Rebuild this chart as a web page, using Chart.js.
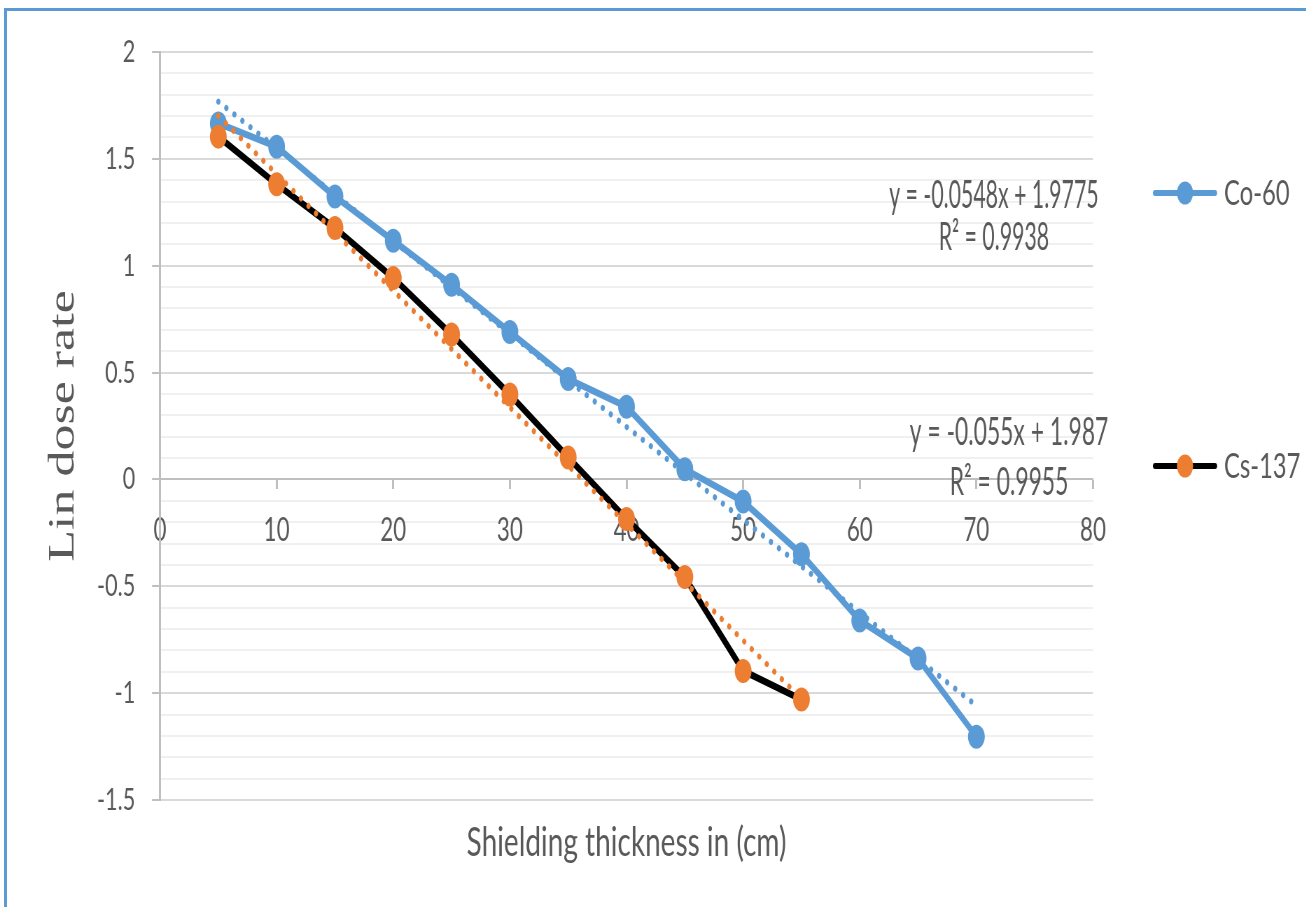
<!DOCTYPE html>
<html>
<head>
<meta charset="utf-8">
<title>Lin dose rate vs shielding thickness</title>
<script src="https://cdn.jsdelivr.net/npm/chart.js@4.4.1/dist/chart.umd.min.js"></script>
<style>
  html, body { margin: 0; padding: 0; background: #fff; overflow: hidden; width: 1306px; height: 907px; }
  #frame { position: absolute; left: 4px; top: 8px; width: 1400px; height: 1000px;
           border-top: 3px solid #5B9BD5; border-left: 3px solid #5B9BD5; }
  #wrap { position: absolute; left: 0; top: 0; transform: scaleX(0.7); transform-origin: 0 0; }
  canvas { display: block; }
</style>
</head>
<body>
<div id="frame"></div>
<div id="wrap"><canvas id="chart" width="1866" height="907"></canvas></div>
<script>
// Measured dose rates (natural log) behind increasing shield thickness
const thicknessCo = [5, 10, 15, 20, 25, 30, 35, 40, 45, 50, 55, 60, 65, 70];
const doseCo      = [1.666, 1.557, 1.324, 1.117, 0.911, 0.690, 0.470, 0.340, 0.048, -0.103, -0.350, -0.660, -0.838, -1.204];
const thicknessCs = [5, 10, 15, 20, 25, 30, 35, 40, 45, 50, 55];
const doseCs      = [1.604, 1.381, 1.176, 0.943, 0.678, 0.397, 0.103, -0.185, -0.457, -0.896, -1.030];

const seriesNames = ['Co-60', 'Cs-137'];
const fitText = [
  ['y = -0.0548x + 1.9775', 'R² = 0.9938'],
  ['y = -0.055x + 1.987', 'R² = 0.9955']
];
const xTitle = 'Shielding thickness in (cm)';
const yTitle = 'Lin dose rate';

// The page is drawn wide and squeezed horizontally by this factor (see #wrap)
const SX = 0.7;
const W = 1866, H = 907;
const BLUE = '#5B9BD5', ORANGE = '#ED7D31', TEXT = '#595959';

// Least-squares line over a series, returned as its two end points
function linearFit(xs, ys) {
  const n = xs.length;
  const mx = xs.reduce((a, b) => a + b, 0) / n;
  const my = ys.reduce((a, b) => a + b, 0) / n;
  let sxy = 0, sxx = 0;
  for (let i = 0; i < n; i++) { sxy += (xs[i] - mx) * (ys[i] - my); sxx += (xs[i] - mx) ** 2; }
  const m = sxy / sxx, b = my - m * mx;
  return [{ x: xs[0], y: m * xs[0] + b }, { x: xs[n - 1], y: m * xs[n - 1] + b }];
}

const pts = (xs, ys) => xs.map((x, i) => ({ x, y: ys[i] }));
const isMajor = v => Math.abs(v * 2 - Math.round(v * 2)) < 1e-6;

// Equation labels, legend and x-axis title
const annotations = {
  id: 'annotations',
  afterDraw(chart) {
    const { ctx, scales: { x, y }, chartArea } = chart;
    ctx.save();
    ctx.fillStyle = TEXT;

    // trendline equations
    const eqPos = [
      { x: 71.5, y: [1.269, 1.075], sq: 0.8 },
      { x: 72.8, y: [0.159, -0.075], sq: 0.86 }
    ];
    ctx.font = '38px Lato';
    ctx.textAlign = 'center';
    ctx.textBaseline = 'alphabetic';
    fitText.forEach((lines, k) => {
      lines.forEach((t, j) => {
        const px = x.getPixelForValue(eqPos[k].x), py = y.getPixelForValue(eqPos[k].y[j]);
        ctx.save();
        ctx.translate(px, py);
        ctx.scale(eqPos[k].sq, 1);
        ctx.fillText(t, 0, 0);
        ctx.restore();
      });
    });

    // legend
    const legendY = [193, 466];
    const x0 = 1155 / SX, x1 = 1215 / SX, xm = (x0 + x1) / 2, xt = 1224 / SX;
    ctx.font = '34px Lato';
    ctx.textAlign = 'left';
    ctx.textBaseline = 'middle';
    seriesNames.forEach((name, k) => {
      const ds = chart.data.datasets[k];
      const ly = legendY[k];
      ctx.strokeStyle = ds.borderColor;
      ctx.lineWidth = 6;
      ctx.lineCap = 'round';
      ctx.beginPath(); ctx.moveTo(x0, ly); ctx.lineTo(x1, ly); ctx.stroke();
      ctx.fillStyle = ds.pointBackgroundColor;
      ctx.beginPath(); ctx.arc(xm, ly, 11.5, 0, Math.PI * 2); ctx.fill();
      ctx.fillStyle = TEXT;
      ctx.fillText(name, xt, ly + 1);
    });

    // x-axis title
    ctx.font = '40px Lato';
    ctx.textAlign = 'center';
    ctx.textBaseline = 'alphabetic';
    ctx.fillText(xTitle, (chartArea.left + chartArea.right) / 2, 856);
    ctx.restore();
  }
};

new Chart(document.getElementById('chart'), {
  type: 'scatter',
  data: {
    datasets: [
      { label: seriesNames[0], data: pts(thicknessCo, doseCo), showLine: true,
        borderColor: BLUE, backgroundColor: BLUE, pointBackgroundColor: BLUE,
        borderWidth: 7, pointRadius: 12, pointBorderWidth: 0, order: 2 },
      { label: seriesNames[1], data: pts(thicknessCs, doseCs), showLine: true,
        borderColor: '#000000', backgroundColor: ORANGE, pointBackgroundColor: ORANGE,
        borderWidth: 7, pointRadius: 12, pointBorderWidth: 0, order: 1 },
      { label: 'Linear (' + seriesNames[0] + ')', data: linearFit(thicknessCo, doseCo), showLine: true,
        borderColor: BLUE, borderWidth: 6, borderDash: [0.1, 13], borderCapStyle: 'round',
        pointRadius: 0, order: 0 },
      { label: 'Linear (' + seriesNames[1] + ')', data: linearFit(thicknessCs, doseCs), showLine: true,
        borderColor: ORANGE, borderWidth: 6, borderDash: [0.1, 13], borderCapStyle: 'round',
        pointRadius: 0, order: 0 }
    ]
  },
  options: {
    responsive: false,
    animation: false,
    layout: { padding: { left: 0, top: 52, right: W - 1093 / SX, bottom: H - 800 } },
    plugins: { legend: { display: false }, tooltip: { enabled: false } },
    scales: {
      x: {
        type: 'linear',
        position: { y: 0 },
        min: 0, max: 80,
        ticks: { stepSize: 10, autoSkip: false, maxRotation: 0, padding: 23,
                 font: { family: 'Lato', size: 32 }, color: TEXT },
        grid: { drawOnChartArea: false, drawTicks: true, tickLength: 9,
                tickColor: '#BFBFBF', tickWidth: 3 },
        border: { display: true, color: '#BFBFBF', width: 2 }
      },
      y: {
        type: 'linear',
        min: -1.5, max: 2,
        ticks: {
          stepSize: 0.1, autoSkip: false, padding: 24,
          font: { family: 'Lato', size: 31 }, color: TEXT,
          callback: v => isMajor(v) ? String(Math.round(v * 10) / 10) : ''
        },
        grid: {
          lineWidth: 2,
          color: c => (c.tick && isMajor(c.tick.value)) ? '#D9D9D9' : '#F0F0F0',
          tickLength: 11.4,
          tickColor: c => (c.tick && isMajor(c.tick.value)) ? '#BFBFBF' : 'rgba(0,0,0,0)'
        },
        border: { display: true, color: '#BFBFBF', width: 3 },
        title: { display: true, text: yTitle, color: TEXT,
                 font: { family: 'Liberation Serif', size: 52 }, padding: { top: 60 } },
        afterFit: s => { s.width = 160 / SX; }
      }
    }
  },
  plugins: [annotations]
});
</script>
</body>
</html>
